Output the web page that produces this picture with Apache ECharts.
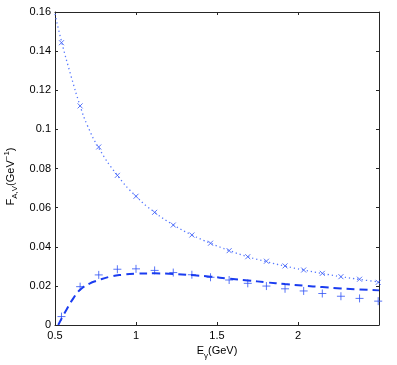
<!DOCTYPE html>
<html>
<head>
<meta charset="utf-8">
<script src="https://cdn.jsdelivr.net/npm/echarts@6/dist/echarts.min.js"></script>
<style>
  html, body { margin: 0; padding: 0; background: #fff; }
</style>
</head>
<body>
<div id="FAVChart" style="width: 397px;height: 365px"></div>
<script>
  // photon energies of the markers (GeV)
  var energies = [0.54, 0.655, 0.77, 0.885, 1.0, 1.115, 1.23, 1.345, 1.46, 1.575,
                  1.69, 1.805, 1.92, 2.035, 2.15, 2.265, 2.38, 2.495];
  // x markers
  var crossVals = [0.1443, 0.112, 0.091, 0.0765, 0.0658, 0.0576, 0.0511, 0.046, 0.0418, 0.038,
                   0.0349, 0.0326, 0.0302, 0.0281, 0.0264, 0.0247, 0.0234, 0.0218];
  // + markers
  var plusVals = [0.0043, 0.0196, 0.0256, 0.0285, 0.0287, 0.0279, 0.0268, 0.0257, 0.0244, 0.023,
                  0.0213, 0.0199, 0.0185, 0.0174, 0.0161, 0.0147, 0.0136, 0.0122];
  // dotted curve
  var dotX = [0.5, 0.54, 0.6, 0.655, 0.7, 0.77, 0.885, 1.0, 1.115, 1.23, 1.345, 1.46, 1.575,
              1.69, 1.805, 1.92, 2.035, 2.15, 2.265, 2.38, 2.5];
  var dotY = [0.159, 0.145, 0.127, 0.112, 0.102, 0.0905, 0.0765, 0.0658, 0.0576, 0.0512, 0.046,
              0.0418, 0.0381, 0.0349, 0.0324, 0.0301, 0.0281, 0.0263, 0.0247, 0.0233, 0.022];
  // dashed curve
  var dashX = [0.52, 0.57, 0.613, 0.655, 0.716, 0.757, 0.84, 0.92, 1.0, 1.115, 1.23, 1.345,
               1.46, 1.575, 1.69, 1.805, 1.92, 2.035, 2.15, 2.265, 2.38, 2.5];
  var dashY = [0, 0.0077, 0.0136, 0.018, 0.0213, 0.0226, 0.0247, 0.0257, 0.0262, 0.0264, 0.0261, 0.0255,
               0.0247, 0.0237, 0.0228, 0.0218, 0.0209, 0.0201, 0.0194, 0.0187, 0.0182, 0.0177];

  function pairs(xs, ys) {
    return xs.map(function (x, i) { return [x, ys[i]]; });
  }

  var chart = echarts.init(document.getElementById('FAVChart'));
  var font = 'Liberation Sans, Arial, sans-serif';
  var lineCol = '#262626';

  var option = {
    animation: false,
    textStyle: { fontFamily: font },
    grid: { left: 55, right: 18, top: 12, bottom: 40, containLabel: false, outerBoundsMode: 'none' },
    xAxis: [
      {
        type: 'value', min: 0.5, max: 2.5, interval: 0.5,
        name: '{a|E}{s|γ}{a|(GeV)}',
        nameLocation: 'middle', nameGap: 17,
        nameTextStyle: {
          rich: {
            a: { fontSize: 11, color: '#000', fontFamily: font, lineHeight: 16, verticalAlign: 'middle' },
            s: { fontSize: 8, color: '#000', fontFamily: font, lineHeight: 8, verticalAlign: 'bottom' }
          }
        },
        axisLine: { lineStyle: { color: lineCol, width: 1 } },
        axisTick: { inside: true, length: 3, lineStyle: { color: lineCol } },
        axisLabel: { color: '#000', fontSize: 11, margin: 5, showMaxLabel: false, fontFamily: font },
        splitLine: { show: false }
      },
      {
        type: 'value', min: 0.5, max: 2.5, interval: 0.5, position: 'top',
        axisLine: { show: true, onZero: false, lineStyle: { color: lineCol, width: 1 } },
        axisTick: { inside: true, length: 3, lineStyle: { color: lineCol } },
        axisLabel: { show: false },
        splitLine: { show: false }
      }
    ],
    yAxis: [
      {
        type: 'value', min: 0, max: 0.16, interval: 0.02,
        name: '{a|F}{s|A,V}{a|(GeV}{p|−1}{a|)}',
        nameLocation: 'middle', nameGap: 34, nameRotate: 90,
        nameTextStyle: {
          padding: [0, 16, 0, 0],
          rich: {
            a: { fontSize: 11, color: '#000', fontFamily: font, lineHeight: 16, verticalAlign: 'middle' },
            s: { fontSize: 8, color: '#000', fontFamily: font, lineHeight: 8, verticalAlign: 'bottom' },
            p: { fontSize: 8, color: '#000', fontFamily: font, lineHeight: 8, verticalAlign: 'top' }
          }
        },
        axisLine: { show: true, lineStyle: { color: lineCol, width: 1 } },
        axisTick: { show: true, inside: true, length: 3, lineStyle: { color: lineCol } },
        axisLabel: { color: '#000', fontSize: 11, margin: 4, fontFamily: font },
        splitLine: { show: false }
      },
      {
        type: 'value', min: 0, max: 0.16, interval: 0.02, position: 'right',
        axisLine: { show: true, onZero: false, lineStyle: { color: lineCol, width: 1 } },
        axisTick: { show: true, inside: true, length: 3, lineStyle: { color: lineCol } },
        axisLabel: { show: false },
        splitLine: { show: false }
      }
    ],
    series: [
      {
        type: 'line', data: pairs(dotX, dotY), smooth: true, showSymbol: false,
        lineStyle: { color: '#5577ff', width: 1.3, type: [1.3, 3] }
      },
      {
        type: 'line', data: pairs(dashX, dashY), smooth: true, showSymbol: false,
        lineStyle: { color: '#1a3cf0', width: 2, type: [8, 5] }
      },
      {
        type: 'scatter', data: pairs(energies, crossVals),
        symbol: 'path://M0,0L10,10M10,0L0,10', symbolSize: 5,
        itemStyle: { color: 'none', borderColor: '#2f52f5', borderWidth: 1 }
      },
      {
        type: 'scatter', data: pairs(energies, plusVals),
        symbol: 'path://M5,0L5,10M0,5L10,5', symbolSize: 8,
        itemStyle: { color: 'none', borderColor: '#2f52f5', borderWidth: 1 }
      }
    ]
  };

  chart.setOption(option);
</script>
</body>
</html>
